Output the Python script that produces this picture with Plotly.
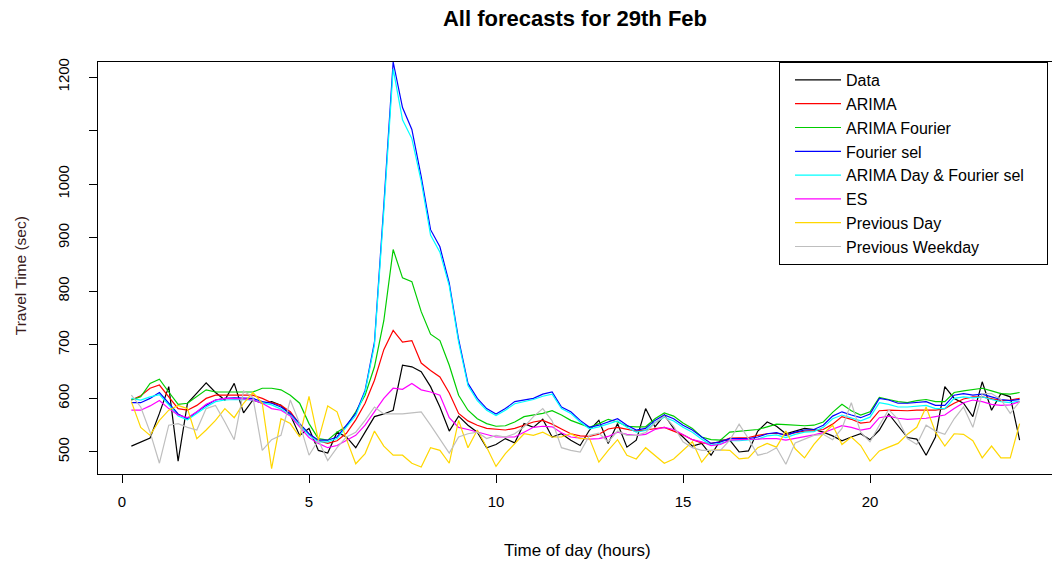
import plotly.graph_objects as go

# time of day (hours), 15-minute steps
hours = [round(0.25 * k, 2) for k in range(1, 97)]

data_obs = [511, 518, 526, 572, 622, 483, 591, 610, 629, 611, 597, 628, 573, 597, 591, 594, 587, 569, 531, 544, 503, 498, 537, 528,
            508, 537, 566, 571, 578, 662, 659, 650, 622, 584, 539, 567, 550, 537, 508, 514, 525, 517, 553, 546, 561, 528, 534, 522, 512, 541, 559,
            516, 553, 509, 522, 581, 547, 569, 544, 528, 511, 516, 494, 522, 522, 500, 502, 539, 556, 548, 534, 539, 544, 542, 537, 530,
            521, 528, 534, 523, 541, 571, 548, 527, 524, 494, 528, 622, 600, 591, 566, 631, 578, 609, 603, 522]

arima = [597, 605, 619, 625, 603, 581, 578, 587, 600, 606, 606, 606, 606, 606, 600, 592, 587, 575, 552, 533, 521, 516, 521,
         535, 560, 591, 634, 691, 727, 705, 708, 666, 652, 640, 610, 572, 558, 550, 544, 542, 541, 544, 550, 556, 559, 552, 543, 534, 530, 529, 533,
         543, 546, 542, 539, 541, 544, 546, 539, 532, 523, 517, 516, 519, 526, 527, 527, 531, 534, 535, 532, 536, 539, 540, 542, 552,
         566, 561, 554, 556, 577, 578, 577, 577, 578, 578, 578, 581, 591, 599, 603, 603, 599, 596, 597, 600]

arima_fourier = [597, 603, 628, 636, 612, 589, 591, 603, 616, 612, 612, 612, 612, 612, 619, 619, 616, 606, 591, 553, 525, 522, 537,
                 548, 575, 606, 659, 745, 878, 825, 818, 762, 720, 708, 662, 606, 578, 562, 553, 548, 549, 556, 566, 569, 572, 577, 569, 559, 552, 546, 553,
                 561, 556, 548, 547, 547, 562, 573, 567, 554, 544, 528, 523, 522, 537, 539, 540, 542, 547, 552, 551, 550, 549, 550, 556, 574,
                 589, 577, 569, 575, 602, 598, 594, 592, 596, 598, 594, 594, 611, 614, 617, 619, 614, 609, 608, 611]

fourier_sel = [592, 592, 600, 611, 591, 571, 562, 575, 587, 597, 600, 601, 601, 600, 594, 591, 584, 572, 553, 534, 522, 522, 528,
               550, 572, 615, 705, 960, 1228, 1143, 1102, 1014, 915, 883, 815, 710, 628, 600, 581, 571, 581, 594, 597, 600, 608, 612, 584, 575, 559, 546, 550,
               556, 562, 550, 541, 544, 559, 569, 562, 550, 541, 528, 516, 519, 525, 525, 525, 528, 534, 536, 531, 537, 541, 542, 550, 567,
               575, 569, 564, 571, 600, 597, 591, 591, 593, 594, 587, 587, 606, 609, 606, 608, 603, 598, 596, 598]

arima_day_fourier = [600, 597, 603, 607, 588, 567, 560, 572, 584, 594, 597, 598, 598, 597, 592, 588, 580, 568, 550, 531, 519, 519, 525,
                     546, 568, 612, 700, 950, 1215, 1120, 1085, 1005, 905, 873, 810, 705, 624, 596, 578, 568, 578, 590, 594, 598, 604, 608, 581, 572, 556, 543, 547,
                     552, 558, 546, 537, 540, 555, 565, 558, 546, 537, 524, 513, 516, 521, 521, 522, 524, 530, 532, 527, 533, 537, 538, 546, 562,
                     569, 563, 558, 565, 592, 589, 584, 584, 586, 587, 581, 581, 600, 603, 601, 603, 598, 594, 592, 595]

es = [578, 578, 586, 596, 581, 569, 564, 575, 589, 597, 600, 600, 599, 597, 591, 581, 578, 567, 546, 527, 516, 508, 512,
      521, 531, 550, 575, 600, 619, 617, 628, 616, 612, 606, 564, 546, 542, 537, 532, 528, 528, 528, 537, 546, 548, 547, 536, 528, 526, 524, 525,
      529, 537, 533, 531, 533, 542, 546, 542, 532, 523, 519, 512, 514, 522, 523, 523, 524, 525, 525, 522, 525, 528, 532, 536, 543,
      549, 546, 541, 544, 564, 567, 563, 561, 562, 563, 566, 569, 581, 592, 597, 594, 589, 587, 588, 594]

previous_day = [594, 546, 531, 559, 578, 587, 581, 525, 541, 559, 581, 564, 591, 611, 591, 469, 562, 553, 528, 604, 522, 586, 575,
                524, 478, 497, 539, 511, 494, 494, 479, 472, 508, 503, 479, 559, 508, 541, 509, 473, 497, 516, 534, 531, 537, 528, 528, 534, 525, 525, 481,
                503, 523, 494, 487, 508, 494, 479, 487, 503, 519, 481, 503, 504, 503, 487, 489, 508, 516, 509, 539, 506, 489, 514, 534, 550,
                514, 528, 512, 483, 502, 509, 516, 533, 546, 584, 537, 511, 534, 533, 521, 489, 511, 489, 489, 553]

previous_weekday = [606, 584, 537, 479, 550, 553, 546, 541, 581, 587, 556, 523, 614, 602, 503, 523, 531, 597, 553, 494, 522, 484, 508,
                    528, 537, 559, 584, 571, 571, 571, 573, 575, 550, 523, 498, 528, 534, 537, 525, 531, 528, 534, 547, 566, 581, 558, 508, 503, 500, 531, 535,
                    519, 539, 531, 531, 536, 554, 567, 548, 519, 508, 503, 503, 503, 522, 552, 525, 494, 498, 508, 477, 517, 524, 531, 533, 523,
                    544, 592, 537, 519, 550, 579, 561, 525, 514, 550, 539, 533, 562, 584, 546, 609, 609, 598, 572, 594]

series_names = ["Data", "ARIMA", "ARIMA Fourier", "Fourier sel", "ARIMA Day & Fourier sel",
                "ES", "Previous Day", "Previous Weekday"]
series_values = [data_obs, arima, arima_fourier, fourier_sel, arima_day_fourier, es, previous_day, previous_weekday]
series_colors = ["#000000", "#FF0000", "#00CD00", "#0000FF", "#00FFFF", "#FF00FF", "#FFD700", "#BEBEBE"]

y_tick_vals = [500, 600, 700, 800, 900, 1000, 1100, 1200]
y_tick_text = ["500", "600", "700", "800", "900", "1000", "", "1200"]
x_tick_vals = [0, 5, 10, 15, 20]

for v in series_values:
    assert len(v) == len(hours), len(v)

FONT = "Liberation Sans, Arial, sans-serif"

fig = go.Figure()
for name, vals, col in zip(series_names, series_values, series_colors):
    # a few trailing no-break spaces widen the legend box towards the right edge, as in the original
    label = name + "\u00a0" * 4 if name == "ARIMA Day & Fourier sel" else name
    fig.add_trace(go.Scatter(x=hours, y=vals, mode="lines", name=label,
                             line=dict(color=col, width=1.2)))

fig.update_layout(
    width=1052, height=562,
    margin=dict(l=98, r=0, t=62, b=88, autoexpand=False),
    plot_bgcolor="white", paper_bgcolor="white",
    font=dict(family=FONT, color="#000000"),
    title=dict(text="<b>All forecasts for 29th Feb</b>", x=575 / 1052, xref="container",
               xanchor="center", y=1 - 18 / 562, yref="container", yanchor="middle",
               font=dict(size=22, family=FONT, color="#000000")),
    xaxis=dict(range=[-0.642, 24.866], tickvals=x_tick_vals, ticks="outside", ticklen=8,
               tickcolor="#000000", tickwidth=1, showgrid=False, zeroline=False,
               showline=True, linecolor="#000000", linewidth=1, mirror=True,
               tickfont=dict(size=15, family=FONT), ticklabelstandoff=6),
    yaxis=dict(range=[458.9, 1228], tickvals=y_tick_vals, ticktext=y_tick_text, tickangle=-90,
               ticks="outside", ticklen=8, tickcolor="#000000", tickwidth=1,
               showgrid=False, zeroline=False, showline=True, linecolor="#000000", linewidth=1,
               tickfont=dict(size=15, family=FONT), ticklabelstandoff=14),
    legend=dict(x=(779 - 98) / 954, y=1, xanchor="left", yanchor="top",
                bordercolor="#000000", borderwidth=1, bgcolor="white",
                font=dict(size=16, family=FONT), itemwidth=46, indentation=10),
    showlegend=True,
)

fig.add_annotation(text="Time of day (hours)", xref="paper", yref="paper",
                   x=(577 - 98) / 954, y=-(550 - 474) / 412, xanchor="center", yanchor="middle",
                   showarrow=False, font=dict(size=17, family=FONT))
fig.add_annotation(text="Travel Time (sec)", xref="paper", yref="paper",
                   x=-(98 - 20) / 954, y=0.48, xanchor="center", yanchor="middle", textangle=-90,
                   showarrow=False, font=dict(size=15.5, family=FONT, color="#3a1c1c"))

fig.write_html("out.html")
